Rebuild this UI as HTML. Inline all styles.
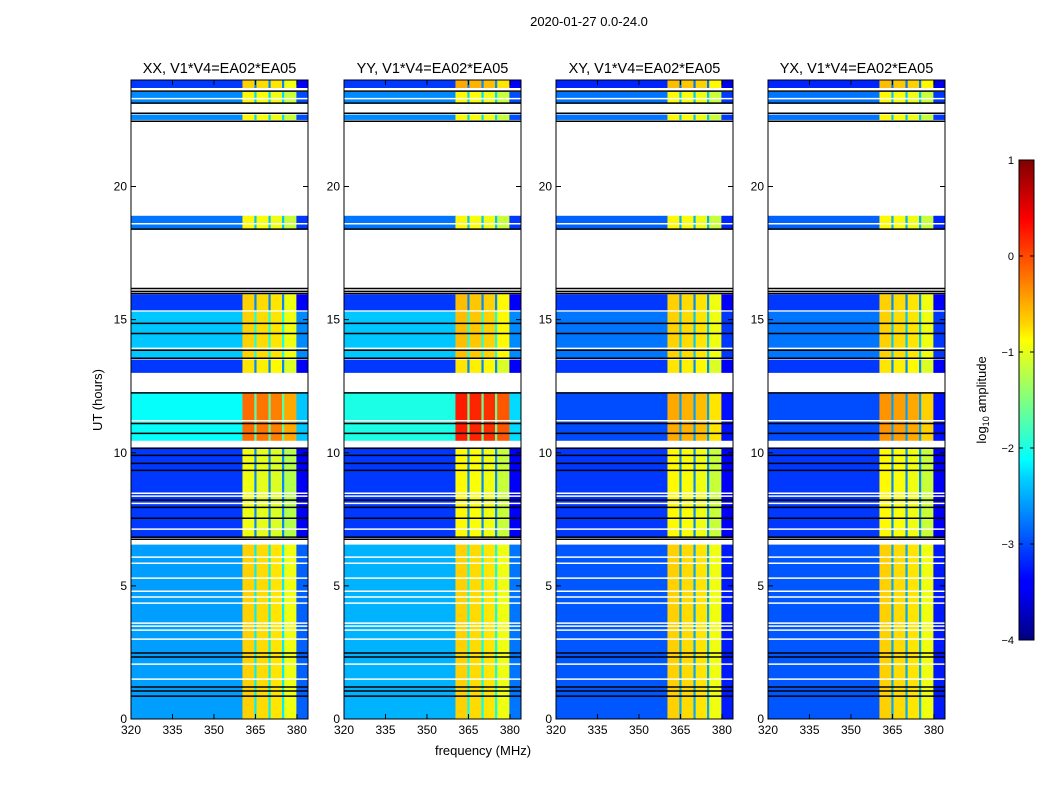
<!DOCTYPE html>
<html><head><meta charset="utf-8"><style>
body{margin:0;background:#fff;}
svg{display:block;font-family:"Liberation Sans",sans-serif;}
</style></head><body>
<svg id="fig" width="1050" height="800" viewBox="0 0 1050 800">
<defs><linearGradient id="jetg" x1="0" y1="1" x2="0" y2="0">
<stop offset="0" stop-color="#000080"/><stop offset="0.11" stop-color="#0000ff"/><stop offset="0.125" stop-color="#0000ff"/>
<stop offset="0.34" stop-color="#00d4ff"/><stop offset="0.375" stop-color="#00ffff"/><stop offset="0.5" stop-color="#80ff80"/>
<stop offset="0.625" stop-color="#ffff00"/><stop offset="0.66" stop-color="#ffd400"/><stop offset="0.875" stop-color="#ff0000"/><stop offset="1" stop-color="#800000"/>
</linearGradient></defs>
<text x="589" y="26" font-size="13" text-anchor="middle">2020-01-27 0.0-24.0</text>
<text transform="translate(102,400) rotate(-90)" font-size="13" text-anchor="middle">UT (hours)</text>
<text x="483" y="755" font-size="13" text-anchor="middle">frequency (MHz)</text>
<g id="panels"></g>
<g id="cbar">
<rect x="1019" y="160" width="15" height="480" fill="url(#jetg)" stroke="#000" stroke-width="1"/>
<text transform="translate(986,400) rotate(-90)" font-size="13" text-anchor="middle">log<tspan font-size="9" dy="3">10</tspan><tspan dy="-3"> amplitude</tspan></text>
</g>
</svg>
<script>
// ---- data ----
const pols = ["XX","YY","XY","YX"];
const panelTitles = ["XX, V1*V4=EA02*EA05","YY, V1*V4=EA02*EA05","XY, V1*V4=EA02*EA05","YX, V1*V4=EA02*EA05"];
const freqEdges = [320,360.3,364.6,365.4,369.7,370.5,374.6,375.4,379.8,384];
const freqKind  = ["bg","band","notch","band","notch","band","notch","band","bg"];
const bandMod   = [0,0.15,0,0.1,0,0.05,0,-0.15,0];
const tStart = [23.7,23.15,22.5,18.4,15.35,13.55,13.0,10.45,6.8,0];
const tEnd   = [24,23.55,22.7,18.9,15.95,15.3,13.5,12.25,10.2,6.55];
const bgXX = [-3.1,-2.7,-2.7,-2.8,-3.1,-2.4,-3.1,-2.1,-3.1,-2.6];
const bgYY = [-3.1,-2.7,-2.7,-2.8,-3.1,-2.4,-3.1,-2.0,-3.1,-2.5];
const bgXY = [-3.2,-2.8,-2.8,-2.9,-3.1,-2.8,-3.1,-3.0,-3.1,-2.95];
const bgYX = [-3.2,-2.8,-2.8,-2.9,-3.1,-2.8,-3.1,-3.0,-3.1,-2.95];
const bandXX = [-0.8,-1.0,-1.0,-1.0,-0.8,-0.8,-0.9,-0.3,-1.1,-0.8];
const bandYY = [-0.6,-1.0,-1.0,-1.0,-0.7,-0.7,-0.9,0.1,-1.0,-0.8];
const bandXY = [-0.7,-1.0,-1.0,-1.0,-0.8,-0.8,-0.9,-0.6,-1.0,-0.8];
const bandYX = [-0.7,-1.0,-1.0,-1.0,-0.8,-0.8,-0.9,-0.5,-1.0,-0.8];
const whiteLines = [23.3,18.6,13.92,11.2,8.48,8.37,8.1,7.13,6.08,5.85,5.29,4.8,4.58,4.35,3.6,3.49,3.34,3.0,2.06,1.5];
const blackLines = [23.58,23.13,22.75,22.45,18.4,16.17,16.06,15.98,14.86,14.48,13.85,13.55,12.25,11.1,10.73,10.17,9.9,9.6,9.34,8.22,7.95,7.54,6.83,6.75,2.48,2.33,1.2,1.05,0.86];
const yTicks = [0,5,10,15,20];
const xTicks = [320,335,350,365,380];
const cbTicks = [1,0,-1,-2,-3,-4];
// ---- helpers ----
const NS="http://www.w3.org/2000/svg";
function mk(tag,attrs,parent){const e=document.createElementNS(NS,tag);for(const k in attrs)e.setAttribute(k,attrs[k]);parent.appendChild(e);return e;}
function clamp(v){return Math.max(0,Math.min(1,v));}
function jet(val){const v=clamp((val+4)/5);const r=clamp(1.5-Math.abs(4*v-3)),g=clamp(1.5-Math.abs(4*v-2)),b=clamp(1.5-Math.abs(4*v-1));return `rgb(${Math.round(r*255)},${Math.round(g*255)},${Math.round(b*255)})`;}
const Y0=719,Y1=80;
function yS(h){return Y0-(h/24)*(Y0-Y1);}
const bgs=[bgXX,bgYY,bgXY,bgYX], bands=[bandXX,bandYY,bandXY,bandYX];
const lefts=[131,344,556,768], PW=177;
const root=document.getElementById("panels");
pols.forEach((p,pi)=>{
  const L=lefts[pi];
  const xS=f=>L+(f-320)/64*PW;
  const g=mk("g",{},root);
  
  
  const t=mk("text",{x:L+PW/2,y:73,"font-size":14.5,"text-anchor":"middle"},g);
  t.textContent=panelTitles[pi];
  
  
  for(let s=0;s<tStart.length;s++){
    for(let f=0;f<freqKind.length;f++){
      let v;
      if(freqKind[f]==="bg") v=bgs[pi][s]-(f===8?0.3:0);
      else if(freqKind[f]==="notch") v=bgs[pi][s]+0.4;
      else v=bands[pi][s]+bandMod[f];
      const r=mk("rect",{x:xS(freqEdges[f]),y:yS(tEnd[s]),width:xS(freqEdges[f+1])-xS(freqEdges[f])+0.3,height:yS(tStart[s])-yS(tEnd[s]),fill:jet(v)},g);
      
      
    }
  }
  whiteLines.forEach(h=>{const l=mk("line",{x1:L,x2:L+PW,y1:yS(h),y2:yS(h),stroke:"#fff","stroke-width":1.5},g);
    
    });
  blackLines.forEach(h=>{const l=mk("line",{x1:L,x2:L+PW,y1:yS(h),y2:yS(h),stroke:"#000","stroke-width":1.5},g);
    
    });
  const fr=mk("rect",{x:L,y:Y1,width:PW,height:Y0-Y1,fill:"none",stroke:"#000","stroke-width":1},g);
  
  
  yTicks.forEach(h=>{const y=yS(h);
    mk("line",{x1:L,x2:L+5,y1:y,y2:y,stroke:"#000"},g);mk("line",{x1:L+PW-5,x2:L+PW,y1:y,y2:y,stroke:"#000"},g);
    const tx=mk("text",{x:L-4,y:y+4,"font-size":12,"text-anchor":"end"},g);tx.textContent=h;
    
    });
  xTicks.forEach(f=>{const x=xS(f);
    mk("line",{x1:x,x2:x,y1:Y0,y2:Y0-5,stroke:"#000"},g);mk("line",{x1:x,x2:x,y1:Y1,y2:Y1+5,stroke:"#000"},g);
    const tx=mk("text",{x:x,y:Y0+15,"font-size":12,"text-anchor":"middle"},g);tx.textContent=f;
    
    });
});
const cb=document.getElementById("cbar");
cbTicks.forEach(v=>{const y=160+(1-v)/5*480;
  mk("line",{x1:1019,x2:1023,y1:y,y2:y,stroke:"#000"},cb);mk("line",{x1:1030,x2:1034,y1:y,y2:y,stroke:"#000"},cb);
  const tx=mk("text",{x:1014,y:y+4,"font-size":11,"text-anchor":"end"},cb);tx.textContent=v<0?"\u2212"+(-v):v;
  
  });
</script>
</body></html>
